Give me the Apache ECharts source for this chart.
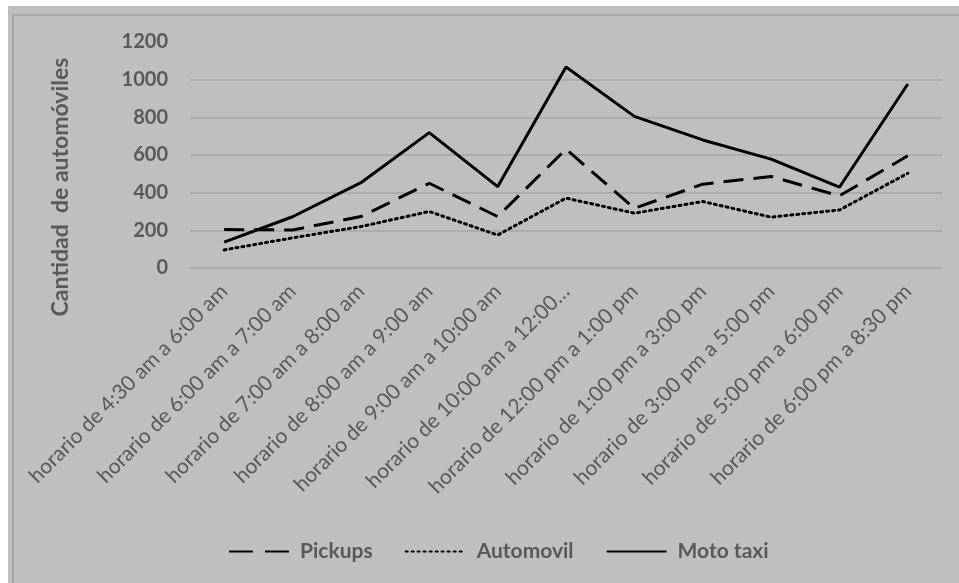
<!DOCTYPE html>
<html>
<head>
<meta charset="utf-8">
<script src="https://cdn.jsdelivr.net/npm/echarts@6/dist/echarts.min.js"></script>
<style>
  html, body { margin: 0; padding: 0; background: #ffffff; }
  #chart { width: 959px; height: 583px; }
</style>
</head>
<body>
<div id="chart"></div>
<script>
// Time slots of the count
const categories = [
  'horario de 4:30 am a 6:00 am',
  'horario de 6:00 am a 7:00 am',
  'horario de 7:00 am a 8:00 am',
  'horario de 8:00 am a 9:00 am',
  'horario de 9:00 am a 10:00 am',
  'horario de 10:00 am a 12:00 pm',
  'horario de 12:00 pm a 1:00 pm',
  'horario de 1:00 pm a 3:00 pm',
  'horario de 3:00 pm a 5:00 pm',
  'horario de 5:00 pm a 6:00 pm',
  'horario de 6:00 pm a 8:30 pm'
];

// Vehicle counts per slot
const pickups   = [204, 202, 273, 450, 273, 631, 317, 445, 486, 383, 596];
const automovil = [96, 160, 220, 300, 175, 371, 291, 353, 270, 308, 503];
const motoTaxi  = [137, 272, 453, 719, 432, 1067, 805, 680, 578, 429, 977];

// Value axis ticks
const yTicks = [0, 200, 400, 600, 800, 1000, 1200];

const textColor = '#595959';
const fontFam = 'Lato, "Liberation Sans", sans-serif';

const chart = echarts.init(document.getElementById('chart'), null, { renderer: 'canvas' });

chart.setOption({
  backgroundColor: '#ffffff',
  animation: false,
  graphic: [
    {
      type: 'rect', z: -10, silent: true,
      shape: { x: 8, y: 6, width: 951, height: 577 },
      style: { fill: '#bfbfbf' }
    },
    {
      type: 'polyline', z: -9, silent: true,
      shape: { points: [[13, 583], [13, 15], [959, 15]] },
      style: { stroke: '#a8a8a8', lineWidth: 2, fill: null }
    },
    {
      // value axis title
      type: 'text', silent: true,
      x: 61, y: 187, rotation: Math.PI / 2,
      style: {
        text: 'Cantidad  de automóviles',
        fill: textColor, fontSize: 23, fontWeight: 'bold', fontFamily: fontFam,
        align: 'center', verticalAlign: 'middle'
      }
    }
  ],
  grid: { left: 190, right: 17, top: 42, bottom: 315, containLabel: false },
  legend: {
    top: 536,
    left: 223,
    itemGap: 32,
    itemWidth: 60,
    itemHeight: 14,
    itemStyle: { opacity: 0 },
    textStyle: {
      color: textColor, fontSize: 21, fontWeight: 'bold', fontFamily: fontFam,
      padding: [0, 0, 0, 6]
    },
    data: [
      { name: 'Pickups', lineStyle: { type: [24, 12] } },
      { name: 'Automovil' },
      { name: 'Moto taxi' }
    ]
  },
  xAxis: {
    type: 'category',
    data: categories,
    boundaryGap: true,
    axisLine: { show: false },
    axisTick: { show: false },
    axisLabel: {
      rotate: 45,
      interval: 0,
      margin: 20,
      color: textColor,
      fontSize: 21,
      fontFamily: fontFam,
      formatter: function (v) {
        return v.length > 29 ? v.slice(0, 27) + '…' : v;
      }
    }
  },
  yAxis: {
    type: 'value',
    min: yTicks[0],
    max: yTicks[yTicks.length - 1],
    interval: 200,
    axisLine: { show: false },
    axisTick: { show: false },
    axisLabel: {
      color: textColor, fontSize: 20, fontWeight: 'bold', fontFamily: fontFam, margin: 22,
      formatter: function (v) { return String(v); }
    },
    splitLine: {
      show: true,
      lineStyle: { color: '#a6a6a6', width: 1.5 },
      showMaxLine: false
    }
  },
  series: [
    {
      name: 'Pickups', type: 'line', data: pickups,
      symbol: 'none',
      lineStyle: { color: '#000000', width: 3, type: [20, 10] },
      itemStyle: { color: '#000000' }
    },
    {
      name: 'Automovil', type: 'line', data: automovil,
      symbol: 'none',
      lineStyle: { color: '#000000', width: 3, type: [2, 4], cap: 'round' },
      itemStyle: { color: '#000000' }
    },
    {
      name: 'Moto taxi', type: 'line', data: motoTaxi,
      symbol: 'none',
      lineStyle: { color: '#000000', width: 3 },
      itemStyle: { color: '#000000' }
    }
  ]
});
</script>
</body>
</html>
